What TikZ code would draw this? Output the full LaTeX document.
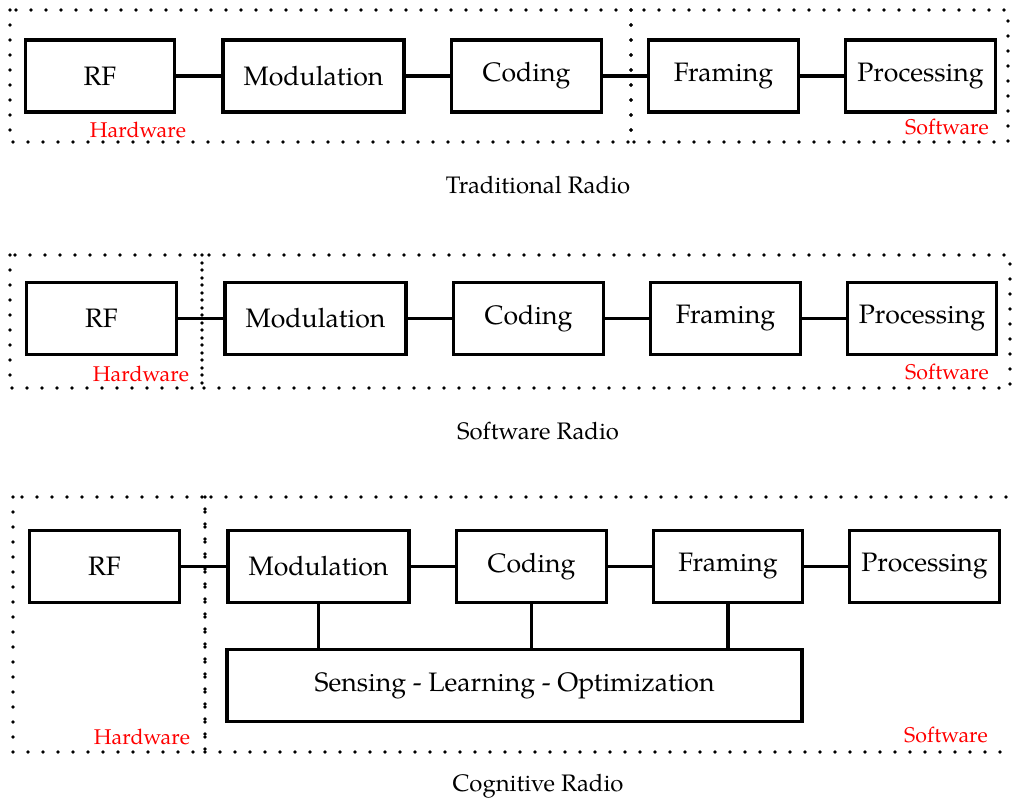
\documentclass[tikz,border=0pt]{standalone}
\usepackage{fontspec}
\setmainfont{TeX Gyre Pagella}
\tikzset{
  blk/.style={draw, line width=2.4pt, inner sep=0pt, minimum height=54pt, font=\fontsize{20}{24}\selectfont},
  wA/.style={minimum width=112pt},
  wB/.style={minimum width=135.75pt},
  conn/.style={line width=2.4pt},
  zone/.style={line width=2.8pt, line cap=round, dash pattern=on 0pt off 11.25pt},
  tag/.style={text=red, font=\fontsize{16}{19}\selectfont, inner sep=0pt},
  captxt/.style={font=\fontsize{17.9}{21}\selectfont, inner sep=0pt}
}
\begin{document}
\begin{tikzpicture}[x=0.75pt,y=-0.75pt]
\useasboundingbox (0,0) rectangle (1012,802);
\clip (0,0) rectangle (1012,802);
% ---------- Traditional Radio
\draw[zone] (10,10) rectangle (631,142);
\draw[zone] (631,10) rectangle (1008,142);
\node[blk,wA] (rf1) at (100,76) {RF};
\node[blk,wB] (mod1) at (313.5,76) {Modulation};
\node[blk,wA] (cod1) at (526.5,76) {Coding};
\node[blk,wA] (fra1) at (723.5,76) {Framing};
\node[blk,wA] (pro1) at (920.5,76) {Processing};
\draw[conn] (rf1) -- (mod1);
\draw[conn] (mod1) -- (cod1);
\draw[conn] (cod1) -- (fra1);
\draw[conn] (fra1) -- (pro1);
\node[tag] (hw1) at (138,130) {Hardware};
\node[tag] (sw1) at (947,127) {Software};
\node[captxt] (c1) at (538,185) {Traditional Radio};
% ---------- Software Radio
\draw[zone] (10,255) rectangle (202,388);
\draw[zone] (202,255) rectangle (1010,388);
\node[blk,wA] (rf2) at (101.5,318.5) {RF};
\node[blk,wB] (mod2) at (315.5,318.5) {Modulation};
\node[blk,wA] (cod2) at (528.5,318.5) {Coding};
\node[blk,wA] (fra2) at (725.5,318.5) {Framing};
\node[blk,wA] (pro2) at (922,318.5) {Processing};
\draw[conn] (rf2) -- (mod2);
\draw[conn] (mod2) -- (cod2);
\draw[conn] (cod2) -- (fra2);
\draw[conn] (fra2) -- (pro2);
\node[tag] (hw2) at (141,374) {Hardware};
\node[tag] (sw2) at (947,372) {Software};
\node[captxt] (c2) at (538,431) {Software Radio};
% ---------- Cognitive Radio
\draw[zone] (13,497) rectangle (205,752);
\draw[zone] (205,497) rectangle (1018,752);
\node[blk,wA] (rf3) at (104.5,566.5) {RF};
\node[blk,wB] (mod3) at (318.5,566.5) {Modulation};
\node[blk,wA] (cod3) at (531.5,566.5) {Coding};
\node[blk,wA] (fra3) at (728,566.5) {Framing};
\node[blk,wA] (pro3) at (924.5,566.5) {Processing};
\node[blk,minimum width=431.25pt] (slo) at (514.5,685.5) {Sensing - Learning - Optimization};
\draw[conn] (rf3) -- (mod3);
\draw[conn] (mod3) -- (cod3);
\draw[conn] (cod3) -- (fra3);
\draw[conn] (fra3) -- (pro3);
\draw[conn] (mod3) -- (mod3 |- slo.north);
\draw[conn] (cod3) -- (cod3 |- slo.north);
\draw[conn] (fra3) -- (fra3 |- slo.north);
\node[tag] (hw3) at (142,737) {Hardware};
\node[tag] (sw3) at (946,735) {Software};
\node[captxt] (c3) at (538,786) {Cognitive Radio};
\end{tikzpicture}
\end{document}
